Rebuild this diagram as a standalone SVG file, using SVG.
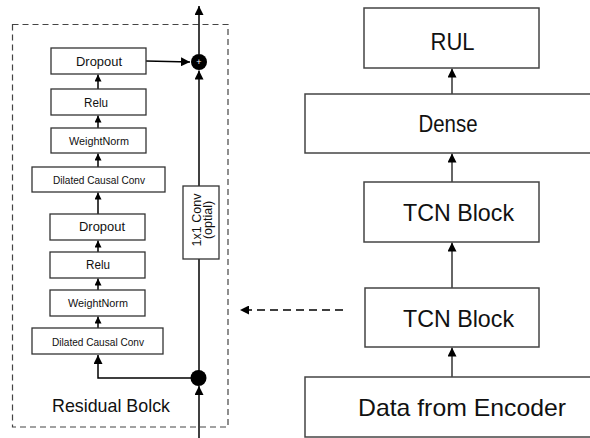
<svg xmlns="http://www.w3.org/2000/svg" width="590" height="438" viewBox="0 0 590 438">
<defs>
<style>
.box{fill:#fff;stroke:#333;stroke-width:1.3}
.bbox{fill:#fff;stroke:#444;stroke-width:1.5}
.ln{fill:none;stroke:#000;stroke-width:1.5}
.lnr{fill:none;stroke:#333;stroke-width:1.5}
.t{font-family:"Liberation Sans",Arial,sans-serif;fill:#111;text-anchor:middle}
.s12{font-size:12px}
.s10{font-size:10.5px}
.big{font-size:24px}
</style>
<marker id="ah" viewBox="0 0 10 10" refX="10" refY="5" markerWidth="7" markerHeight="7" markerUnits="userSpaceOnUse" orient="auto">
<path d="M0,0 L10,5 L0,10 z" fill="#000"/>
</marker>
<marker id="ahb" viewBox="0 0 10 10" refX="10" refY="5" markerWidth="9" markerHeight="9" markerUnits="userSpaceOnUse" orient="auto">
<path d="M0,0 L10,5 L0,10 z" fill="#000"/>
</marker>
</defs>
<rect width="590" height="438" fill="#fff"/>

<rect x="12.5" y="24.5" width="215.5" height="402.5" fill="none" stroke="#444" stroke-width="1.2" stroke-dasharray="6,4"/>

<g id="connectors">
<line class="ln" x1="98" y1="89" x2="98" y2="74.5" marker-end="url(#ah)"/>
<line class="ln" x1="98" y1="128" x2="98" y2="115.5" marker-end="url(#ah)"/>
<line class="ln" x1="98" y1="167" x2="98" y2="153.5" marker-end="url(#ah)"/>
<line class="ln" x1="98" y1="214" x2="98" y2="192.5" marker-end="url(#ah)"/>
<line class="ln" x1="98" y1="252" x2="98" y2="240.5" marker-end="url(#ah)"/>
<line class="ln" x1="98" y1="290" x2="98" y2="278.5" marker-end="url(#ah)"/>
<line class="ln" x1="98" y1="328" x2="98" y2="316.5" marker-end="url(#ah)"/>
<polyline class="ln" points="198,378 98,378 98,355" marker-end="url(#ahb)"/>
<line class="ln" x1="146" y1="61" x2="190" y2="62" marker-end="url(#ahb)"/>
<line class="ln" x1="199" y1="438" x2="199" y2="386" marker-end="url(#ahb)"/>
<line class="ln" x1="199" y1="378" x2="199" y2="259"/>
<line class="ln" x1="199" y1="186" x2="199" y2="70.5" marker-end="url(#ahb)"/>
<line class="ln" x1="199" y1="54" x2="199" y2="6" marker-end="url(#ahb)"/>
<line class="lnr" x1="452" y1="182" x2="452" y2="153.5" marker-end="url(#ahb)"/>
<line class="lnr" x1="452" y1="94" x2="452" y2="68.5" marker-end="url(#ahb)"/>
<line class="lnr" x1="452" y1="288" x2="452" y2="242.5" marker-end="url(#ahb)"/>
<line class="lnr" x1="452" y1="377" x2="452" y2="347.5" marker-end="url(#ahb)"/>
<line class="ln" x1="343" y1="310" x2="240" y2="310" stroke-dasharray="8,5" marker-end="url(#ahb)"/>
</g>

<g id="dropout1"><rect class="box" x="51" y="48" width="95" height="26"/><text class="t s12" x="99" y="65.5" textLength="46" lengthAdjust="spacingAndGlyphs">Dropout</text></g>
<g id="relu1"><rect class="box" x="51" y="89" width="95" height="26"/><text class="t s12" x="96" y="106.5" textLength="24" lengthAdjust="spacingAndGlyphs">Relu</text></g>
<g id="weightnorm1"><rect class="box" x="51" y="128" width="95" height="25"/><text class="t s10" x="99" y="144.5" textLength="60" lengthAdjust="spacingAndGlyphs">WeightNorm</text></g>
<g id="dilated1"><rect class="box" x="32" y="167" width="133" height="25"/><text class="t s10" x="99" y="183.5" textLength="92" lengthAdjust="spacingAndGlyphs">Dilated Causal Conv</text></g>

<g id="dropout2"><rect class="box" x="50" y="214" width="95" height="26"/><text class="t s12" x="102" y="231" textLength="46" lengthAdjust="spacingAndGlyphs">Dropout</text></g>
<g id="relu2"><rect class="box" x="50" y="252" width="95" height="26"/><text class="t s12" x="98" y="269" textLength="24" lengthAdjust="spacingAndGlyphs">Relu</text></g>
<g id="weightnorm2"><rect class="box" x="50" y="290" width="95" height="26"/><text class="t s10" x="98" y="307" textLength="60" lengthAdjust="spacingAndGlyphs">WeightNorm</text></g>
<g id="dilated2"><rect class="box" x="32" y="328" width="131" height="26"/><text class="t s10" x="98" y="345.5" textLength="92" lengthAdjust="spacingAndGlyphs">Dilated Causal Conv</text></g>

<g id="conv1x1"><rect class="box" x="183" y="186" width="36" height="73"/>
<text font-family="Liberation Sans, Arial, sans-serif" font-size="12.5" fill="#111" text-anchor="middle" transform="translate(201,220) rotate(-90)">1x1 Conv</text>
<text font-family="Liberation Sans, Arial, sans-serif" font-size="12.5" fill="#111" text-anchor="middle" transform="translate(212,220) rotate(-90)">(optial)</text></g>

<g id="add"><circle cx="199" cy="62" r="8" fill="#000"/><text x="199" y="65" font-family="Liberation Sans,Arial,sans-serif" font-size="9" fill="#fff" text-anchor="middle">+</text></g>
<g id="split"><circle cx="198.5" cy="378" r="8" fill="#000"/></g>

<g id="residual-label"><text class="t" x="111" y="412" font-size="18.5" textLength="118" lengthAdjust="spacingAndGlyphs">Residual Bolck</text></g>

<g id="rul"><rect class="bbox" x="364" y="8" width="175" height="60"/><text class="t big" x="452.5" y="50" textLength="44" lengthAdjust="spacingAndGlyphs">RUL</text></g>
<g id="dense"><rect class="bbox" x="305" y="94" width="290" height="59"/><text class="t big" x="448" y="132" textLength="59" lengthAdjust="spacingAndGlyphs">Dense</text></g>
<g id="tcn1"><rect class="bbox" x="364" y="182" width="175" height="60"/><text class="t big" x="458.5" y="221" textLength="111" lengthAdjust="spacingAndGlyphs">TCN Block</text></g>
<g id="tcn2"><rect class="bbox" x="365" y="288" width="174" height="59"/><text class="t big" x="458.5" y="327" textLength="111" lengthAdjust="spacingAndGlyphs">TCN Block</text></g>
<g id="encoder"><rect class="bbox" x="305" y="377" width="290" height="60"/><text class="t big" x="462" y="416" textLength="208" lengthAdjust="spacingAndGlyphs">Data from Encoder</text></g>
</svg>
